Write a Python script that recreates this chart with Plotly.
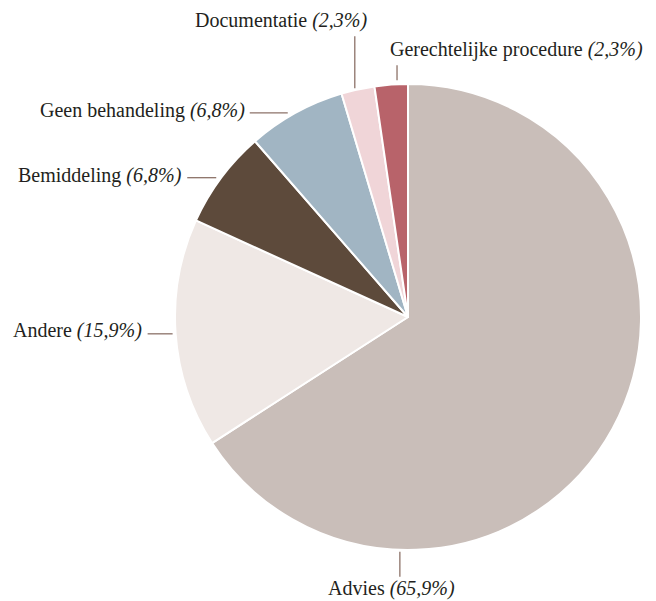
import math
import plotly.graph_objects as go

# ---- data ----
categories = ["Advies", "Andere", "Bemiddeling", "Geen behandeling", "Documentatie", "Gerechtelijke procedure"]
values = [65.9, 15.9, 6.8, 6.8, 2.3, 2.3]
pct_labels = ["65,9%", "15,9%", "6,8%", "6,8%", "2,3%", "2,3%"]
colors = ["#c9beb9", "#efe8e5", "#5d4a3b", "#a1b5c3", "#f0d5d8", "#b8636a"]

# ---- layout / style (pixels, in window coordinates) ----
PAGE_OFF = 8                     # default body margin of the html page
WIN_W, WIN_H = 656, 601
W, H = WIN_W - PAGE_OFF, WIN_H - PAGE_OFF
CX, CY, R = 408, 317, 233
# leader style per label
leader_dir = ["v", "h", "h", "h", "v", "v"]
leader_gap = [2, 3, 5, 8, 2, 4]
leader_len = [25, 25, 29, 38, 52, 15]
angle_override = [182, None, None, None, 346.8, 357.3]
text_anchor = ["center", "right", "right", "right", "right", "left"]
text_dx = [-8, -4, -3, -3, 15, -9]
text_dy = [12, -3, -2, -2, -15.5, -15.5]

LINE_COLOR = "#8c7268"
FONT = "Liberation Serif"
FONT_SIZE = 20


def px(x):
    return (x - PAGE_OFF) / W


def py(y):
    return 1 - (y - PAGE_OFF) / H


fig = go.Figure()
fig.add_trace(go.Pie(
    labels=categories,
    values=values,
    sort=False,
    direction="clockwise",
    rotation=0,
    marker=dict(colors=colors, line=dict(color="white", width=2)),
    textinfo="none",
    hoverinfo="label+percent",
    domain=dict(x=[px(CX - R), px(CX + R)], y=[py(CY + R), py(CY - R)]),
    showlegend=False,
))

total = sum(values)
cum = 0.0
shapes = []
annotations = []
for i, v in enumerate(values):
    mid = (cum + v / 2) / total * 360.0
    cum += v
    ang = angle_override[i] if angle_override[i] is not None else mid
    a = math.radians(ang)
    ex = CX + R * math.sin(a)
    ey = CY - R * math.cos(a)
    if leader_dir[i] == "h":
        sgn = -1 if ex < CX else 1
        x0 = ex + sgn * leader_gap[i]
        x1 = x0 + sgn * leader_len[i]
        y0 = y1 = ey
    else:
        sgn = -1 if ey < CY else 1
        y0 = ey + sgn * leader_gap[i]
        y1 = y0 + sgn * leader_len[i]
        x0 = x1 = ex
    tx, ty = x1 + text_dx[i], y1 + text_dy[i]
    shapes.append(dict(type="line", xref="paper", yref="paper",
                       x0=px(x0), y0=py(y0), x1=px(x1), y1=py(y1),
                       line=dict(color=LINE_COLOR, width=1.3)))
    annotations.append(dict(
        xref="paper", yref="paper", x=px(tx), y=py(ty),
        xanchor=text_anchor[i], yanchor="middle",
        text=f"{categories[i]} <i>({pct_labels[i]})</i>",
        showarrow=False,
        font=dict(family=FONT, size=FONT_SIZE, color="#231f20"),
    ))

fig.update_layout(
    width=W, height=H,
    margin=dict(l=0, r=0, t=0, b=0),
    paper_bgcolor="white",
    plot_bgcolor="white",
    shapes=shapes,
    annotations=annotations,
)

fig.write_html("out.html")
